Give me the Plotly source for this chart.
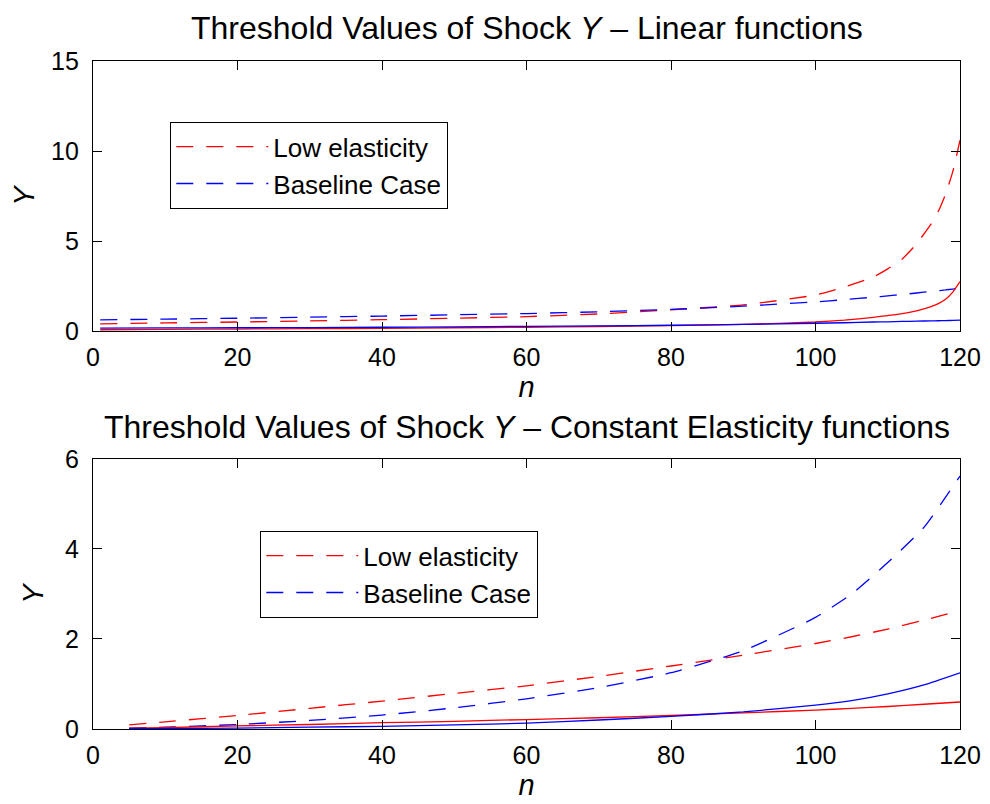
import plotly.graph_objects as go

# ---- Top panel: Linear functions ----
top_x = [1, 10, 20, 30, 40, 50, 60, 70, 80, 90, 100, 104, 108, 110, 112, 114, 116, 117, 118, 119, 120]
top_low_dash = [0.40, 0.45, 0.50, 0.56, 0.63, 0.71, 0.80, 0.95, 1.18, 1.45, 2.00, 2.45, 3.00, 3.45, 4.00, 4.85, 5.95, 6.65, 7.60, 8.85, 10.6]
top_base_dash = [0.62, 0.66, 0.71, 0.77, 0.83, 0.90, 0.97, 1.07, 1.20, 1.38, 1.62, 1.74, 1.88, 1.95, 2.03, 2.11, 2.20, 2.24, 2.28, 2.33, 2.38]
top_low_solid = [0.07, 0.09, 0.11, 0.13, 0.15, 0.18, 0.21, 0.25, 0.30, 0.37, 0.50, 0.60, 0.76, 0.86, 0.97, 1.12, 1.35, 1.52, 1.76, 2.16, 2.74]
top_base_solid = [0.16, 0.17, 0.18, 0.19, 0.21, 0.23, 0.26, 0.29, 0.32, 0.37, 0.43, 0.46, 0.50, 0.51, 0.53, 0.55, 0.56, 0.57, 0.58, 0.59, 0.60]

# ---- Bottom panel: Constant Elasticity functions ----
bot_x = [5, 10, 20, 30, 40, 50, 60, 70, 80, 90, 100, 105, 110, 115, 120]
bot_low_dash = [0.09, 0.16, 0.30, 0.46, 0.62, 0.79, 0.96, 1.17, 1.40, 1.64, 1.90, 2.05, 2.22, 2.42, 2.63]
bot_base_dash = [0.02, 0.04, 0.10, 0.19, 0.31, 0.47, 0.67, 0.92, 1.25, 1.74, 2.48, 3.00, 3.70, 4.48, 5.62]
bot_low_solid = [0.02, 0.03, 0.07, 0.10, 0.14, 0.17, 0.21, 0.25, 0.30, 0.36, 0.42, 0.46, 0.50, 0.55, 0.60]
bot_base_solid = [0.005, 0.01, 0.02, 0.04, 0.06, 0.09, 0.13, 0.20, 0.28, 0.38, 0.53, 0.63, 0.78, 0.98, 1.25]

legend_names = ["Low elasticity", "Baseline Case"]
x_ticks = [0, 20, 40, 60, 80, 100, 120]
top_y_ticks = [0, 5, 10, 15]
bot_y_ticks = [0, 2, 4, 6]

RED = "#ff0000"
BLUE = "#0000ff"
DASH = "17px,13px"
FONT = "Liberation Sans, Arial, sans-serif"

fig = go.Figure()

def add(x, y, color, dash, xa, ya, name, legend, show):
    fig.add_trace(go.Scatter(
        x=x, y=y, mode="lines", name=name,
        line=dict(color=color, width=1.3, dash=dash, shape="spline", smoothing=0.5),
        xaxis=xa, yaxis=ya, legend=legend, showlegend=show, hoverinfo="skip"))

add(top_x, top_low_dash, RED, DASH, "x", "y", legend_names[0], "legend", True)
add(top_x, top_base_dash, BLUE, DASH, "x", "y", legend_names[1], "legend", True)
add(top_x, top_low_solid, RED, "solid", "x", "y", "", "legend", False)
add(top_x, top_base_solid, BLUE, "solid", "x", "y", "", "legend", False)

add(bot_x, bot_low_dash, RED, DASH, "x2", "y2", legend_names[0], "legend2", True)
add(bot_x, bot_base_dash, BLUE, DASH, "x2", "y2", legend_names[1], "legend2", True)
add(bot_x, bot_low_solid, RED, "solid", "x2", "y2", "", "legend2", False)
add(bot_x, bot_base_solid, BLUE, "solid", "x2", "y2", "", "legend2", False)

axis_common = dict(
    showline=True, linecolor="black", linewidth=1.3, mirror="ticks",
    ticks="inside", ticklen=9, tickwidth=1, tickcolor="black",
    showgrid=False, zeroline=False,
    tickfont=dict(family=FONT, size=25, color="black"),
)
xtitle = dict(text="<i>n</i>", font=dict(family=FONT, size=29, color="black"), standoff=0)
ytitle = dict(text="<i>Y</i>", font=dict(family=FONT, size=29, color="black"), standoff=12)
legend_common = dict(
    xanchor="left", yanchor="top",
    bgcolor="white", bordercolor="black", borderwidth=1.3,
    font=dict(family=FONT, size=26, color="black"),
    tracegroupgap=0, itemwidth=92,
)

fig.update_layout(
    width=982, height=796,
    paper_bgcolor="white", plot_bgcolor="white",
    margin=dict(l=85, r=30, t=53, b=75),
    font=dict(family=FONT, color="black"),
    xaxis=dict(domain=[0, 1], range=[0, 120], tickvals=x_ticks, anchor="y",
               title=xtitle, ticklabelstandoff=4, automargin=False, **axis_common),
    yaxis=dict(domain=[0.5958, 1.0], range=[0, 15], tickvals=top_y_ticks, anchor="x",
               title=ytitle, ticklabelstandoff=8, automargin=False, **axis_common),
    xaxis2=dict(domain=[0, 1], range=[0, 120], tickvals=x_ticks, anchor="y2",
                title=xtitle, ticklabelstandoff=4, automargin=False, **axis_common),
    yaxis2=dict(domain=[0, 0.4042], range=[0, 6], tickvals=bot_y_ticks, anchor="x2",
                title=ytitle, ticklabelstandoff=8, automargin=False, **axis_common),
    legend=dict(x=0.0888, y=0.9087, **legend_common),
    legend2=dict(x=0.1926, y=0.2964, **legend_common),
    annotations=[
        dict(text="Threshold Values of Shock <i>Y</i> \u2013 Linear functions",
             xref="paper", yref="paper", x=0.5, y=1.0, yshift=33,
             xanchor="center", yanchor="middle", showarrow=False,
             font=dict(family=FONT, size=32, color="black")),
        dict(text="Threshold Values of Shock <i>Y</i> \u2013 Constant Elasticity functions",
             xref="paper", yref="paper", x=0.5, y=0.4042, yshift=32,
             xanchor="center", yanchor="middle", showarrow=False,
             font=dict(family=FONT, size=32, color="black")),
    ],
)

fig.write_html("out.html")
